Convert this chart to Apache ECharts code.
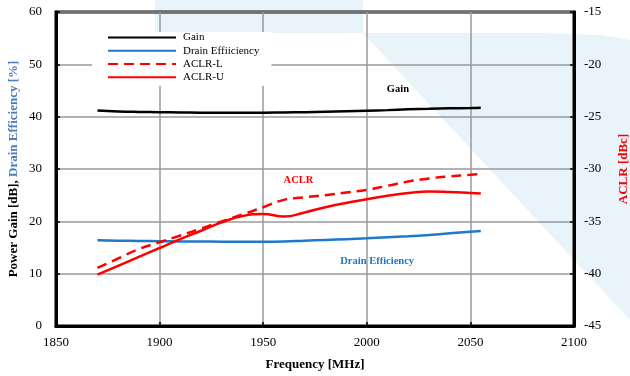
<!DOCTYPE html>
<html>
<head>
<meta charset="utf-8">
<script src="https://cdn.jsdelivr.net/npm/echarts@6/dist/echarts.min.js"></script>
<style>
  html, body { margin: 0; padding: 0; background: #fff; }
  #chart { width: 630px; height: 376px; }
</style>
</head>
<body>
<div id="chart"></div>
<script>
// Frequency sweep points [MHz]
const freqs = [1870, 1880, 1890, 1900, 1910, 1920, 1930, 1940, 1950, 1960,
               1970, 1980, 1990, 2000, 2010, 2020, 2030, 2040, 2050, 2055];

// Power gain [dB]
const gain = [41.2, 41.0, 40.9, 40.85, 40.8, 40.75, 40.75, 40.75, 40.75, 40.8,
              40.85, 40.95, 41.05, 41.15, 41.25, 41.4, 41.5, 41.6, 41.65, 41.7];

// Drain efficiency [%]
const drainEff = [16.4, 16.3, 16.25, 16.2, 16.15, 16.15, 16.1, 16.1, 16.1, 16.15,
                  16.3, 16.45, 16.6, 16.75, 16.95, 17.15, 17.4, 17.7, 18.0, 18.15];

// Lower / upper adjacent channel leakage ratio [dBc]
const aclrL = [-39.45, -38.55, -37.65, -37.0, -36.35, -35.7, -35.0, -34.35, -33.65, -32.95,
               -32.7, -32.5, -32.25, -32.0, -31.6, -31.2, -30.9, -30.7, -30.55, -30.5];
const aclrU = [-40.1, -39.25, -38.4, -37.55, -36.7, -35.9, -35.1, -34.5, -34.3, -34.55,
               -34.15, -33.65, -33.25, -32.9, -32.55, -32.3, -32.15, -32.2, -32.3, -32.35];

const seriesNames = ['Gain', 'Drain Effiiciency', 'ACLR-L', 'ACLR-U'];

// In-plot curve labels: [text, frequency, left-axis value]
const curveLabels = [
  ['Gain', 2015, 45.2],
  ['ACLR', 1967, 27.8],
  ['Drain Efficiency', 2005, 12.3]
];

const SERIF = '"Liberation Serif", "Times New Roman", serif';
const RED = '#ff0000';
const BLUE = '#1f78c8';
const NAME_BLUE = '#4a7ebb';
const LOGO = '#e8f3fa';

const pairs = (ys) => freqs.map((f, i) => [f, ys[i]]);

const chart = echarts.init(document.getElementById('chart'), null, { renderer: 'canvas' });

const gridLine = { show: true, lineStyle: { color: '#9a9a9a', width: 1.5 } };
const tick = { show: true, inside: true, length: 4, lineStyle: { color: '#000', width: 1.5 } };

chart.setOption({
  animation: false,
  backgroundColor: '#fff',
  grid: {
    left: 56, right: 56, top: 12, bottom: 50,
    outerBoundsMode: 'none', containLabel: false,
    show: true, borderColor: '#000', borderWidth: 3, backgroundColor: 'transparent'
  },
  legend: {
    data: seriesNames,
    orient: 'vertical',
    left: 92, top: 32,
    padding: [0, 12, 3, 15],
    backgroundColor: '#fff',
    itemWidth: 68, itemHeight: 14, itemGap: 2,
    itemStyle: { opacity: 0 },
    textStyle: { fontFamily: SERIF, fontSize: 11, color: '#000', padding: [0, 0, 0, 2] }
  },
  xAxis: {
    type: 'value',
    min: 1850, max: 2100, interval: 50,
    name: 'Frequency [MHz]',
    nameLocation: 'middle', nameGap: 32, nameMoveOverlap: false,
    nameTextStyle: { fontFamily: SERIF, fontSize: 13, fontWeight: 'bold', color: '#000' },
    axisLine: { show: true, lineStyle: { color: '#000', width: 3 } },
    axisTick: tick,
    axisLabel: { fontFamily: SERIF, fontSize: 13, color: '#000', margin: 10, formatter: (v) => String(v) },
    splitLine: gridLine
  },
  yAxis: [
    {
      type: 'value',
      min: 0, max: 60, interval: 10,
      name: '{a|Power Gain [dB], }{b|Drain Efficiency [%]}',
      nameLocation: 'middle', nameGap: 36, nameRotate: 90, nameMoveOverlap: false,
      nameTextStyle: {
        fontFamily: SERIF, fontSize: 13, fontWeight: 'bold',
        rich: {
          a: { fontFamily: SERIF, fontSize: 13, fontWeight: 'bold', color: '#000' },
          b: { fontFamily: SERIF, fontSize: 13, fontWeight: 'bold', color: NAME_BLUE }
        }
      },
      axisLine: { show: true, lineStyle: { color: '#000', width: 3 } },
      axisTick: tick,
      axisLabel: { fontFamily: SERIF, fontSize: 13, color: '#000', margin: 14 },
      splitLine: gridLine
    },
    {
      type: 'value',
      position: 'right',
      min: -45, max: -15, interval: 5,
      name: 'ACLR [dBc]',
      nameLocation: 'middle', nameGap: 43, nameRotate: 90, nameMoveOverlap: false,
      nameTextStyle: { fontFamily: SERIF, fontSize: 13, fontWeight: 'bold', color: RED },
      axisLine: { show: true, lineStyle: { color: '#000', width: 3 } },
      axisTick: tick,
      axisLabel: { fontFamily: SERIF, fontSize: 13, color: '#000', margin: 10 },
      splitLine: { show: false }
    }
  ],
  series: [
    {
      name: 'Gain', type: 'line', yAxisIndex: 0, smooth: true, showSymbol: false, symbol: 'none',
      data: pairs(gain), z: 5,
      lineStyle: { color: '#000', width: 2.5 }, itemStyle: { color: '#000' }
    },
    {
      name: 'Drain Effiiciency', type: 'line', yAxisIndex: 0, smooth: true, showSymbol: false, symbol: 'none',
      data: pairs(drainEff), z: 5,
      lineStyle: { color: BLUE, width: 2.5 }, itemStyle: { color: BLUE }
    },
    {
      name: 'ACLR-L', type: 'line', yAxisIndex: 1, smooth: true, showSymbol: false, symbol: 'none',
      data: pairs(aclrL), z: 5,
      lineStyle: { color: RED, width: 2.5, type: [10, 6] }, itemStyle: { color: RED }
    },
    {
      name: 'ACLR-U', type: 'line', yAxisIndex: 1, smooth: true, showSymbol: false, symbol: 'none',
      data: pairs(aclrU), z: 5,
      lineStyle: { color: RED, width: 2.5 }, itemStyle: { color: RED }
    }
  ]
});

// Background logo shape and in-plot curve labels
const labelColors = { 'Gain': '#000', 'ACLR': RED, 'Drain Efficiency': BLUE };
const labelElements = curveLabels.map(([text, f, v]) => {
  const [px, py] = chart.convertToPixel({ xAxisIndex: 0, yAxisIndex: 0 }, [f, v]);
  return {
    type: 'text', z: 100, silent: true,
    style: {
      text, x: px, y: py, align: 'center', verticalAlign: 'middle',
      fill: labelColors[text], font: 'bold 10.5px ' + SERIF
    }
  };
});

chart.setOption({
  graphic: [
    {
      type: 'rect', z: -100, zlevel: 0, silent: true,
      shape: { x: 155, y: 0, width: 208, height: 33 }, style: { fill: LOGO }
    },
    {
      type: 'polygon', z: -100, zlevel: 0, silent: true,
      shape: { points: [[363, 33], [540, 33], [600, 35], [630, 40], [630, 320]] },
      style: { fill: LOGO }
    }
  ].concat(labelElements)
});
</script>
</body>
</html>
